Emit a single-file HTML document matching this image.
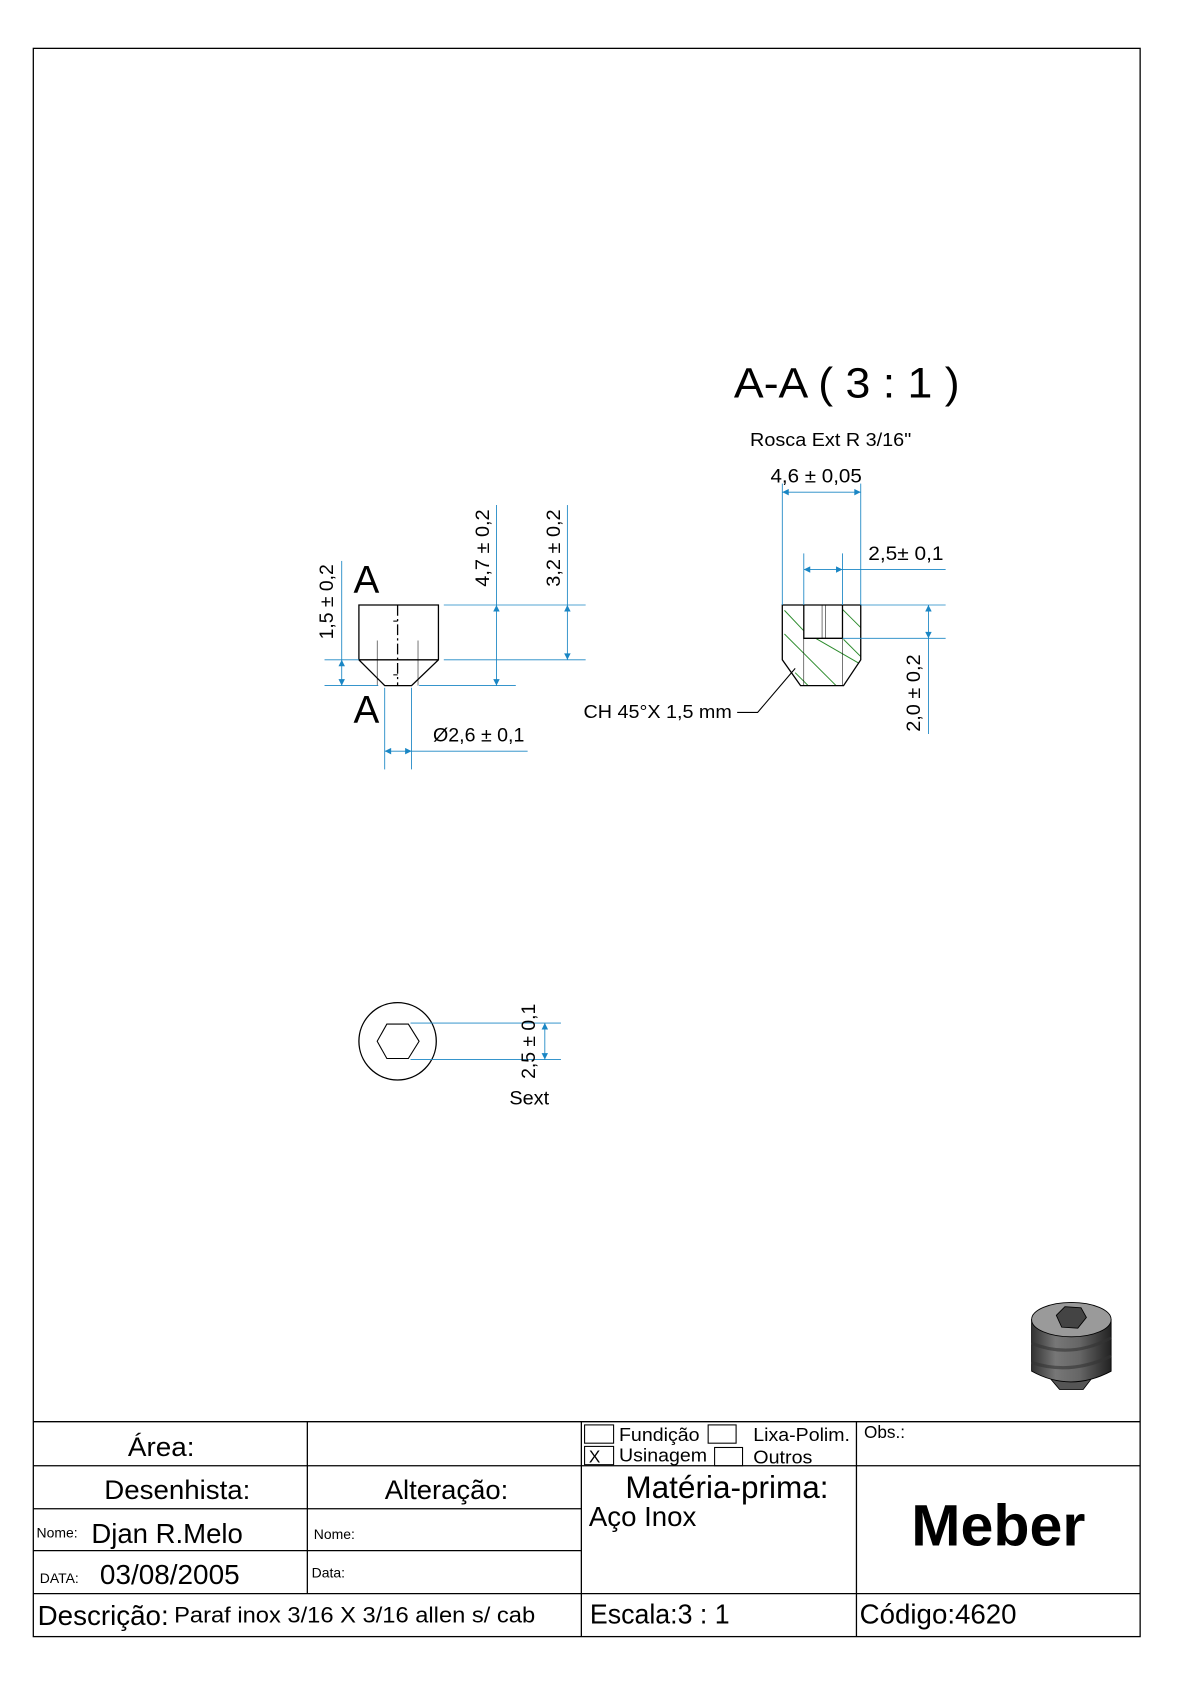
<!DOCTYPE html>
<html><head><meta charset="utf-8"><style>
html,body{margin:0;padding:0;background:#fff;}
svg{display:block;}
text{font-family:"Liberation Sans",sans-serif;fill:#000;}
</style></head><body>
<svg width="1190" height="1684" viewBox="0 0 1107.4 1567.1" preserveAspectRatio="none" xmlns="http://www.w3.org/2000/svg">
<defs>
<marker id="ar" viewBox="0 0 10 10" refX="10" refY="5" markerWidth="8" markerHeight="6" orient="auto-start-reverse" markerUnits="userSpaceOnUse"><path d="M0,0 L10,5 L0,10 z" fill="#1a86c4"/></marker>
<linearGradient id="g1" x1="0" x2="1"><stop offset="0" stop-color="#333"/><stop offset="0.3" stop-color="#777"/><stop offset="0.6" stop-color="#666"/><stop offset="1" stop-color="#222"/></linearGradient>
</defs>
<rect x="31" y="45" width="1030" height="1478" fill="none" stroke="#000" stroke-width="1.2"/>
<g stroke="#000" stroke-width="1.2">
<line x1="31" y1="1323" x2="1061" y2="1323"/>
<line x1="31" y1="1364" x2="1061" y2="1364"/>
<line x1="31" y1="1404" x2="541" y2="1404"/>
<line x1="31" y1="1443" x2="541" y2="1443"/>
<line x1="31" y1="1483" x2="1061" y2="1483"/>
<line x1="286" y1="1323" x2="286" y2="1483"/>
<line x1="541" y1="1323" x2="541" y2="1523"/>
<line x1="797" y1="1323" x2="797" y2="1523"/>
</g>
<g fill="none" stroke="#000" stroke-width="1">
<rect x="544" y="1326" width="27" height="17"/>
<rect x="659" y="1326" width="26" height="17"/>
<rect x="544" y="1346" width="27" height="17"/>
<rect x="665" y="1347" width="26" height="17"/>
</g>
<g lengthAdjust="spacingAndGlyphs">
<text x="119" y="1355" font-size="25" textLength="62" lengthAdjust="spacingAndGlyphs">Área:</text>
<text x="97" y="1395" font-size="25" textLength="136" lengthAdjust="spacingAndGlyphs">Desenhista:</text>
<text x="358" y="1395" font-size="25" textLength="115" lengthAdjust="spacingAndGlyphs">Alteração:</text>
<text x="34" y="1431" font-size="13">Nome:</text>
<text x="85" y="1436" font-size="26" textLength="141" lengthAdjust="spacingAndGlyphs">Djan R.Melo</text>
<text x="37" y="1473" font-size="13">DATA:</text>
<text x="93" y="1474" font-size="26" textLength="130" lengthAdjust="spacingAndGlyphs">03/08/2005</text>
<text x="292" y="1432" font-size="13">Nome:</text>
<text x="290" y="1468" font-size="13">Data:</text>
<text x="576" y="1341" font-size="17" textLength="75" lengthAdjust="spacingAndGlyphs">Fundição</text>
<text x="701" y="1341" font-size="17" textLength="90" lengthAdjust="spacingAndGlyphs">Lixa-Polim.</text>
<text x="548" y="1361" font-size="16">X</text>
<text x="576" y="1360" font-size="17" textLength="82" lengthAdjust="spacingAndGlyphs">Usinagem</text>
<text x="701" y="1362" font-size="17" textLength="55" lengthAdjust="spacingAndGlyphs">Outros</text>
<text x="804" y="1338" font-size="16">Obs.:</text>
<text x="582" y="1394" font-size="29" textLength="189" lengthAdjust="spacingAndGlyphs">Matéria-prima:</text>
<text x="548" y="1420" font-size="26" textLength="100" lengthAdjust="spacingAndGlyphs">Aço Inox</text>
<text x="848" y="1438" font-size="54" font-weight="bold" textLength="162" lengthAdjust="spacingAndGlyphs">Meber</text>
<text x="35" y="1512" font-size="26" textLength="122" lengthAdjust="spacingAndGlyphs">Descrição:</text>
<text x="162" y="1510" font-size="21" textLength="336" lengthAdjust="spacingAndGlyphs">Paraf inox 3/16 X 3/16 allen s/ cab</text>
<text x="549" y="1511" font-size="26" textLength="130" lengthAdjust="spacingAndGlyphs">Escala:3 : 1</text>
<text x="800" y="1511" font-size="26" textLength="146" lengthAdjust="spacingAndGlyphs">Código:4620</text>
</g>

<g stroke="#000" stroke-width="1.2" fill="none">
<path d="M334,563 H408 V614 L383,638 H358 L334,614 Z"/>
<line x1="334" y1="614" x2="408" y2="614"/>
</g>
<g stroke="#000" stroke-width="0.5">
<line x1="351" y1="596" x2="351" y2="638"/><line x1="389" y1="596" x2="389" y2="638"/>
</g>
<line x1="370" y1="563" x2="370" y2="638" stroke="#000" stroke-width="1.2" stroke-dasharray="10,3,2,3"/>
<line x1="366" y1="578" x2="370" y2="578" stroke="#000"/>
<line x1="366" y1="628" x2="370" y2="628" stroke="#000"/>
<text x="341" y="552" font-size="36" text-anchor="middle">A</text>
<text x="341" y="673" font-size="36" text-anchor="middle">A</text>

<g stroke="#1a86c4" stroke-width="0.8" fill="none">
<line x1="413" y1="563" x2="545" y2="563"/>
<line x1="390" y1="638" x2="480" y2="638"/>
<line x1="413" y1="614" x2="545" y2="614"/>
<line x1="302" y1="614" x2="334" y2="614"/>
<line x1="302" y1="638" x2="352" y2="638"/>
<line x1="462" y1="470" x2="462" y2="563"/>
<line x1="462" y1="563" x2="462" y2="638" marker-start="url(#ar)" marker-end="url(#ar)"/>
<line x1="528" y1="470" x2="528" y2="563"/>
<line x1="528" y1="563" x2="528" y2="614" marker-start="url(#ar)" marker-end="url(#ar)"/>
<line x1="318" y1="522" x2="318" y2="614"/>
<line x1="318" y1="614" x2="318" y2="638" marker-start="url(#ar)" marker-end="url(#ar)"/>
<line x1="358" y1="640" x2="358" y2="716"/>
<line x1="383" y1="640" x2="383" y2="716"/>
<line x1="358" y1="699" x2="383" y2="699" marker-start="url(#ar)" marker-end="url(#ar)"/>
<line x1="383" y1="699" x2="491" y2="699"/>
</g>
<text transform="translate(310,595) rotate(-90)" font-size="18" textLength="70" lengthAdjust="spacingAndGlyphs">1,5 ± 0,2</text>
<text transform="translate(455,546) rotate(-90)" font-size="18" textLength="72" lengthAdjust="spacingAndGlyphs">4,7 ± 0,2</text>
<text transform="translate(521,546) rotate(-90)" font-size="18" textLength="72" lengthAdjust="spacingAndGlyphs">3,2 ± 0,2</text>
<text x="403" y="690" font-size="18" textLength="85" lengthAdjust="spacingAndGlyphs">Ø2,6 ± 0,1</text>

<text x="683" y="370" font-size="40" textLength="210" lengthAdjust="spacingAndGlyphs">A-A  ( 3 : 1 )</text>
<text x="698" y="415" font-size="17" textLength="150" lengthAdjust="spacingAndGlyphs">Rosca Ext R 3/16"</text>
<g stroke="#2a8a2a" stroke-width="0.9">
<line x1="730" y1="568" x2="748" y2="587"/>
<line x1="730" y1="590" x2="778" y2="638"/>
<line x1="740" y1="626" x2="752" y2="638"/>
<line x1="784" y1="567" x2="801" y2="584"/>
<line x1="785" y1="595" x2="801" y2="611"/>
<line x1="759" y1="594" x2="799" y2="617"/>
</g>
<g stroke="#000" stroke-width="1.2" fill="none">
<path d="M728,563 H801 V614 L785,638 H745 L728,614 Z"/>
<path d="M748,563 V594 H784 V563"/>
</g>
<g stroke="#000" stroke-width="0.5">
<line x1="765" y1="563" x2="765" y2="594"/><line x1="768" y1="563" x2="768" y2="594"/>
<line x1="748" y1="594" x2="748" y2="638"/><line x1="784" y1="594" x2="784" y2="638"/>
</g>
<polyline points="686,663 705,663 740,622" fill="none" stroke="#000" stroke-width="1"/>
<text x="543" y="668" font-size="17" textLength="138" lengthAdjust="spacingAndGlyphs">CH 45°X 1,5 mm</text>
<g stroke="#1a86c4" stroke-width="0.8" fill="none">
<line x1="728" y1="450" x2="728" y2="563"/><line x1="801" y1="450" x2="801" y2="563"/>
<line x1="728" y1="458" x2="801" y2="458" marker-start="url(#ar)" marker-end="url(#ar)"/>
<line x1="748" y1="515" x2="748" y2="563"/><line x1="784" y1="515" x2="784" y2="563"/>
<line x1="748" y1="530" x2="784" y2="530" marker-start="url(#ar)" marker-end="url(#ar)"/>
<line x1="784" y1="530" x2="880" y2="530"/>
<line x1="801" y1="563" x2="880" y2="563"/><line x1="784" y1="594" x2="880" y2="594"/>
<line x1="864" y1="563" x2="864" y2="594" marker-start="url(#ar)" marker-end="url(#ar)"/>
<line x1="864" y1="594" x2="864" y2="683"/>
</g>
<text x="717" y="449" font-size="18" textLength="85" lengthAdjust="spacingAndGlyphs">4,6 ± 0,05</text>
<text x="808" y="521" font-size="18" textLength="70" lengthAdjust="spacingAndGlyphs">2,5± 0,1</text>
<text transform="translate(856,681) rotate(-90)" font-size="18" textLength="72" lengthAdjust="spacingAndGlyphs">2,0 ± 0,2</text>

<circle cx="370" cy="969" r="36" fill="none" stroke="#000" stroke-width="1.2"/>
<polygon points="351,969 360,953 380,953 390,969 380,985 360,985" fill="none" stroke="#000" stroke-width="1"/>
<g stroke="#1a86c4" stroke-width="0.8" fill="none">
<line x1="382" y1="952" x2="522" y2="952"/><line x1="382" y1="986" x2="522" y2="986"/>
<line x1="507" y1="952" x2="507" y2="986" marker-start="url(#ar)" marker-end="url(#ar)"/>
</g>
<text transform="translate(498,1004) rotate(-90)" font-size="18" textLength="70" lengthAdjust="spacingAndGlyphs">2,5 ± 0,1</text>
<text x="474" y="1028" font-size="18" textLength="37" lengthAdjust="spacingAndGlyphs">Sext</text>

<path d="M975,1280 L986,1293 H1008 L1018,1280 Z" fill="#555" stroke="#000" stroke-width="0.8"/>
<path d="M960,1228 V1276 Q996,1296 1034,1276 V1228 Z" fill="url(#g1)" stroke="#000" stroke-width="0.8"/>
<path d="M960,1250 Q996,1265 1034,1245" stroke="#333" stroke-width="3" fill="none" opacity="0.6"/>
<path d="M960,1268 Q996,1280 1034,1262" stroke="#333" stroke-width="3" fill="none" opacity="0.6"/>
<ellipse cx="997" cy="1228" rx="37" ry="16" fill="#9a9a9a" stroke="#000" stroke-width="0.8"/>
<polygon points="983,1224 991,1216 1006,1217 1011,1226 1003,1236 988,1235" fill="#444" stroke="#000" stroke-width="0.8"/>
</svg>
</body></html>
